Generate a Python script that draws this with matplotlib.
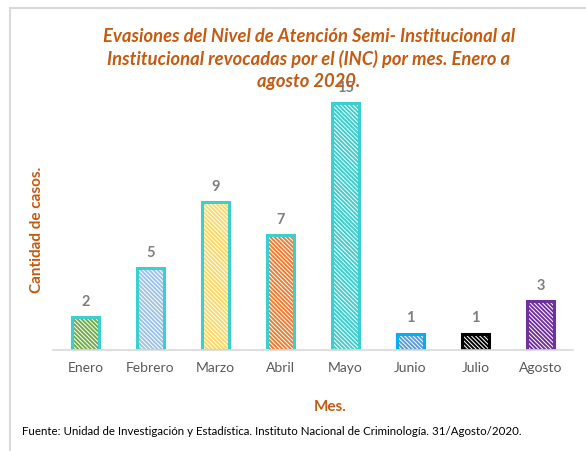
import matplotlib
matplotlib.use("Agg")
import matplotlib.pyplot as plt
from matplotlib.patches import Rectangle

months = ["Enero", "Febrero", "Marzo", "Abril", "Mayo", "Junio", "Julio", "Agosto"]
values = [2, 5, 9, 7, 15, 1, 1, 3]
fill_colors = ["#70AD47", "#9DC3E6", "#FFD966", "#ED7D31", "#3CCFCF", "#5B9BD5", "#000000", "#7030A0"]
edge_colors = ["#3CCFCF", "#3CCFCF", "#3CCFCF", "#3CCFCF", "#3CCFCF", "#00B0F0", "#000000", "#7030A0"]

title = ("Evasiones del Nivel de Atención Semi- Institucional al\n"
         "Institucional revocadas por el (INC) por mes. Enero a\n"
         "agosto 2020.")
xlabel = "Mes."
ylabel = "Cantidad de casos."
source = "Fuente: Unidad de Investigación y Estadística. Instituto Nacional de Criminología. 31/Agosto/2020."

plt.rcParams['font.family'] = ['Lato', 'DejaVu Sans']
plt.rcParams['hatch.linewidth'] = 1.4

W, H = 586, 452
fig = plt.figure(figsize=(W/100, H/100), dpi=100)
fig.patch.set_facecolor("white")

# outer border (light gray)
fig.patches.append(Rectangle((10/W, -0.1), 1.2, 1 - 9/H + 0.1, transform=fig.transFigure,
                             fill=False, edgecolor="#D9D9D9", linewidth=1.5))

ax = fig.add_axes([53/W, 1 - 351/H, (573-53)/W, (351-87.5)/H])
x = list(range(len(months)))
ax.bar(x, values, width=0.43, color="white", edgecolor=fill_colors, hatch="\\" * 8, linewidth=0)
ax.bar(x, values, width=0.43, color="none", edgecolor=edge_colors, linewidth=2.2)
for xi, v in zip(x, values):
    ax.text(xi, v + 0.55, str(v), ha="center", va="bottom", fontsize=10.5,
            fontweight="bold", color="#7F7F7F")
ax.set_xlim(-0.5, 7.5)
ax.set_ylim(0, 16)
ax.set_yticks([])
ax.set_xticks(x)
ax.set_xticklabels(months, fontsize=10, color="#595959")
ax.tick_params(axis="x", length=0, pad=8)
for s in ["top", "right", "left"]:
    ax.spines[s].set_visible(False)
ax.spines["bottom"].set_color("#D9D9D9")
ax.spines["bottom"].set_linewidth(1.2)
ax.patch.set_alpha(0)

fig.text(309/W, 1 - 59/H, title, ha="center", va="center", fontsize=13.2,
         fontstyle="italic", fontweight="bold", color="#C55A11", linespacing=1.35)
fig.text(330/W, 1 - 407/H, xlabel, ha="center", va="center", fontsize=11,
         fontweight="bold", color="#C55A11")
fig.text(37/W, 1 - 230/H, ylabel, ha="center", va="center", rotation=90, fontsize=11,
         fontweight="bold", color="#C55A11")
fig.text(22/W, 1 - 432/H, source, ha="left", va="center", fontsize=8.3, color="#000000")

fig.savefig("out.png", dpi=100)
